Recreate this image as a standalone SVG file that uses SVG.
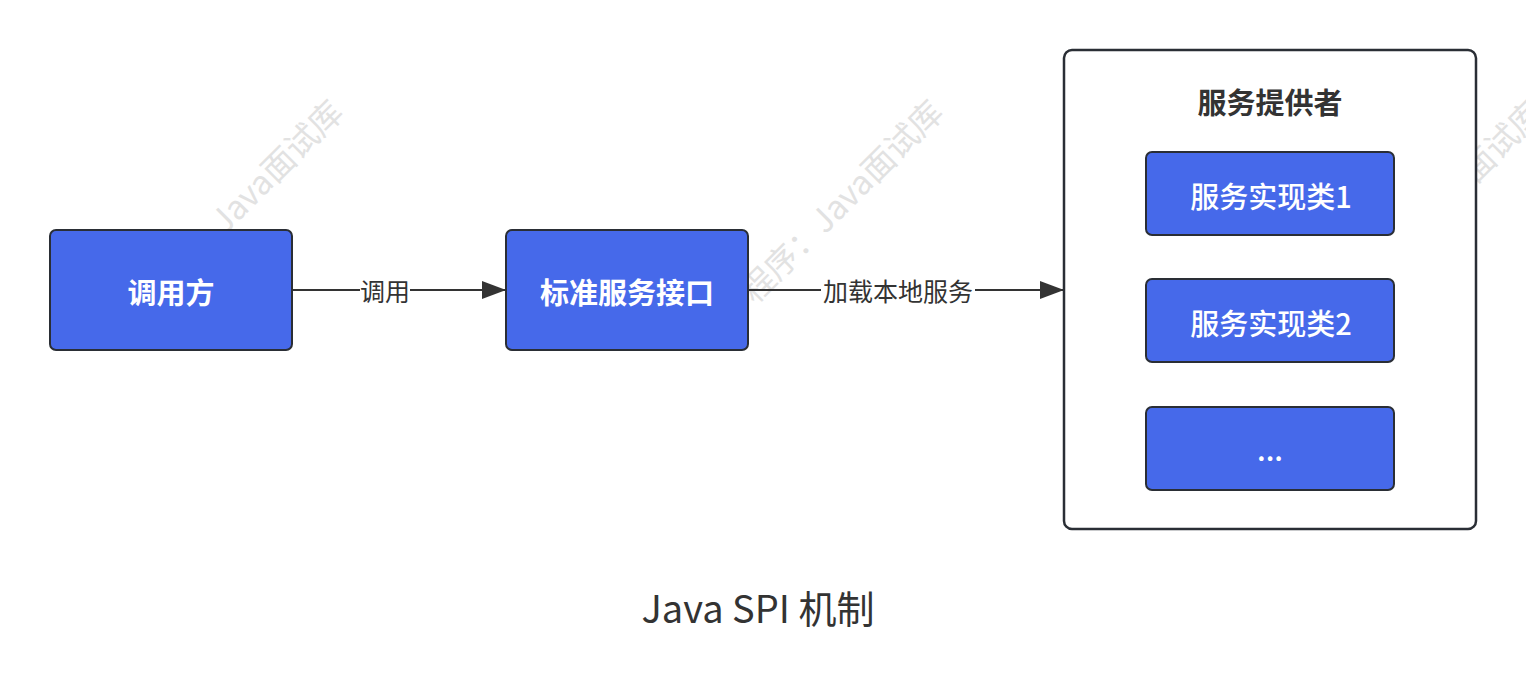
<svg xmlns="http://www.w3.org/2000/svg" width="1526" height="693" viewBox="0 0 1526 693">
<defs>
<style>
.wm{font-family:"Noto Sans CJK SC","Noto Sans",sans-serif;font-size:33px;fill:#e2e2e2;}
.node{fill:#4669EA;stroke:#2a2e35;stroke-width:2;}
.ntext{font-family:"Noto Sans CJK SC","Noto Sans",sans-serif;font-size:29px;fill:#ffffff;text-anchor:middle;dominant-baseline:central;}
.b{font-weight:bold;}
.m{font-weight:500;}
.edge{stroke:#333333;stroke-width:2;fill:none;}
.elabel{font-family:"Noto Sans CJK SC","Noto Sans",sans-serif;font-size:25px;fill:#333333;text-anchor:middle;dominant-baseline:central;}
.lbg{fill:#ffffff;}
</style>
<marker id="arrow" markerUnits="userSpaceOnUse" markerWidth="24" markerHeight="18" refX="24" refY="9" orient="auto">
<path d="M0,0 L24,9 L0,18 Z" fill="#333333"/>
</marker>
</defs>
<rect x="0" y="0" width="1526" height="693" fill="#ffffff"/>
<g id="watermarks">
<text class="wm" transform="translate(155,305) rotate(-45)">程序：Java面试库</text>
<text class="wm" transform="translate(755,305) rotate(-45)">程序：Java面试库</text>
<text class="wm" transform="translate(1355,305) rotate(-45)">程序：Java面试库</text>
</g>
<g id="connectors">
<line class="edge" x1="292" y1="290" x2="506" y2="290" marker-end="url(#arrow)"/>
<rect class="lbg" x="360" y="276" width="50" height="28"/>
<text class="elabel" x="385" y="290">调用</text>
<line class="edge" x1="748" y1="290" x2="1064" y2="290" marker-end="url(#arrow)"/>
<rect class="lbg" x="821" y="276" width="154" height="28"/>
<text class="elabel" x="898" y="290">加载本地服务</text>
</g>
<g id="caller">
<rect class="node" x="50" y="230" width="242" height="120" rx="6"/>
<text class="ntext b" x="171" y="291">调用方</text>
</g>
<g id="interface">
<rect class="node" x="506" y="230" width="242" height="120" rx="6"/>
<text class="ntext b" x="627" y="291">标准服务接口</text>
</g>
<g id="provider">
<rect x="1064" y="50" width="412" height="479" rx="8" fill="#ffffff" stroke="#2a2e35" stroke-width="2.5"/>
<text class="ntext b" x="1270" y="101" style="fill:#333333">服务提供者</text>
</g>
<g id="impl1">
<rect class="node" x="1146" y="152" width="248" height="83" rx="6"/>
<text class="ntext m" x="1271" y="195">服务实现类1</text>
</g>
<g id="impl2">
<rect class="node" x="1146" y="279" width="248" height="83" rx="6"/>
<text class="ntext m" x="1271" y="322">服务实现类2</text>
</g>
<g id="impl3">
<rect class="node" x="1146" y="407" width="248" height="83" rx="6"/>
<text class="ntext m" x="1270" y="448">...</text>
</g>
<g id="caption">
<text x="758" y="606" font-family="'Noto Sans CJK SC','Noto Sans',sans-serif" font-size="38" fill="#333333" text-anchor="middle" dominant-baseline="central">Java SPI 机制</text>
</g>
</svg>
